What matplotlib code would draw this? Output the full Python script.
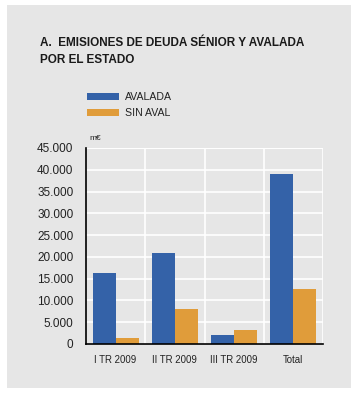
import numpy as np
import matplotlib
matplotlib.use('Agg')
import matplotlib.pyplot as plt
from matplotlib.patches import Rectangle

categories = ['I TR 2009', 'II TR 2009', 'III TR 2009', 'Total']
avalada = [16300, 20900, 2100, 39000]
sin_aval = [1400, 8000, 3200, 12600]
yticks = [0, 5000, 10000, 15000, 20000, 25000, 30000, 35000, 40000, 45000]
ytick_labels = ['0', '5.000', '10.000', '15.000', '20.000', '25.000', '30.000', '35.000', '40.000', '45.000']

blue = '#3462a8'
orange = '#e09c3a'
bg = '#e6e6e6'

plt.rcParams['font.family'] = ['Liberation Sans', 'DejaVu Sans']

W, H = 357, 395
fig = plt.figure(figsize=(W / 100, H / 100), dpi=100)
fig.patch.set_facecolor('white')
fig.patches.append(Rectangle((7 / W, 1 - 388 / H), 344 / W, 383 / H,
                             transform=fig.transFigure, facecolor=bg, edgecolor='none', zorder=-5))

fig.text(40 / W, 1 - 43 / H, 'A.  EMISIONES DE DEUDA SÉNIOR Y AVALADA', fontsize=8.5,
         fontweight='bold', va='center', ha='left', color='#1a1a1a')
fig.text(40 / W, 1 - 60 / H, 'POR EL ESTADO', fontsize=8.5,
         fontweight='bold', va='center', ha='left', color='#1a1a1a')

# legend
fig.patches.append(Rectangle((87 / W, 1 - 100 / H), 32 / W, 7 / H,
                             transform=fig.transFigure, facecolor=blue, edgecolor='none'))
fig.patches.append(Rectangle((87 / W, 1 - 116 / H), 32 / W, 7 / H,
                             transform=fig.transFigure, facecolor=orange, edgecolor='none'))
fig.text(125 / W, 1 - 97 / H, 'AVALADA', fontsize=7.6, va='center', ha='left', color='#222222')
fig.text(125 / W, 1 - 113 / H, 'SIN AVAL', fontsize=7.6, va='center', ha='left', color='#222222')
fig.text(89 / W, 1 - 139 / H, 'm€', fontsize=6, va='center', ha='left', color='#222222')

ax = fig.add_axes([86 / W, 1 - 344 / H, 237 / W, 196 / H])
ax.set_facecolor(bg)
x = np.arange(len(categories))
bw = 0.39
ax.bar(x - bw / 2, avalada, bw, color=blue, zorder=3)
ax.bar(x + bw / 2, sin_aval, bw, color=orange, zorder=3)

ax.set_xlim(-0.5, len(categories) - 0.5)
ax.set_ylim(0, 45000)
ax.set_yticks(yticks)
ax.set_yticklabels(ytick_labels, fontsize=8.5, color='#222222')
ax.set_xticks(x)
ax.set_xticklabels(categories, fontsize=6.9, color='#222222')
ax.tick_params(length=0)
ax.tick_params(axis='y', pad=9)
ax.tick_params(axis='x', pad=8)

ax.yaxis.grid(True, color='white', linewidth=1.2, zorder=1)
for xv in [0.5, 1.5, 2.5, 3.5]:
    ax.axvline(xv, color='white', linewidth=1.2, zorder=1)
ax.axhline(45000, color='white', linewidth=1.2, zorder=1)

for s in ['top', 'right']:
    ax.spines[s].set_visible(False)
ax.spines['left'].set_color('black')
ax.spines['bottom'].set_color('black')
ax.spines['left'].set_linewidth(1.2)
ax.spines['bottom'].set_linewidth(1.2)
ax.spines['left'].set_zorder(4)
ax.spines['bottom'].set_zorder(4)

fig.savefig('out.png', dpi=100, facecolor='white')
